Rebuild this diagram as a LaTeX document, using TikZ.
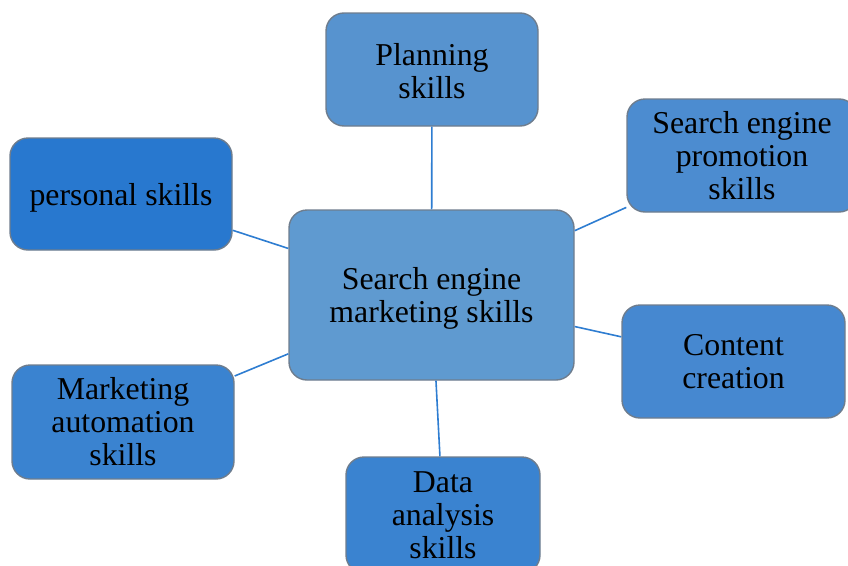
\documentclass[tikz,border=0pt]{standalone}
\usepackage{fontspec}
\setmainfont{Liberation Serif}
\definecolor{cbox}{HTML}{5F9AD0}
\definecolor{plbox}{HTML}{5793CF}
\definecolor{prbox}{HTML}{4C8CD0}
\definecolor{pebox}{HTML}{2878CF}
\definecolor{cobox}{HTML}{4688D0}
\definecolor{mabox}{HTML}{3A83D0}
\definecolor{dabox}{HTML}{3A83D0}
\definecolor{bord}{HTML}{6E7D8E}
\definecolor{link}{HTML}{2E7DD1}
\newcommand{\tstrut}[1]{\rule{0pt}{#1}}
\begin{document}
\begin{tikzpicture}[x=1pt,y=-1pt,
  box/.style={draw=bord, line width=1.4pt, rounded corners=18pt, align=center,
    font=\fontsize{31.8}{33}\selectfont, inner sep=0pt, text=black},
  link/.style={draw=link, line width=1.6pt}]
\useasboundingbox (0,0) rectangle (848,565);
\node[box, fill=cbox, minimum width=285pt, minimum height=170pt] (c) at (431.5,295) {\tstrut{29pt}Search engine\\marketing skills};
\node[box, fill=plbox, minimum width=212pt, minimum height=113pt] (pl) at (432,69.5) {\tstrut{26pt}Planning\\skills};
\node[box, fill=prbox, minimum width=230pt, minimum height=113pt] (pr) at (742,155.5) {Search engine\\promotion\\skills};
\node[box, fill=pebox, minimum width=222pt, minimum height=112pt] (pe) at (121,194) {\tstrut{29pt}personal skills};
\node[box, fill=cobox, minimum width=223pt, minimum height=113pt] (co) at (733.5,361.5) {Content\\creation};
\node[box, fill=mabox, minimum width=222pt, minimum height=114pt] (ma) at (123,422) {Marketing\\automation\\skills};
\node[box, fill=dabox, minimum width=194pt, minimum height=116pt] (da) at (443,515) {Data\\analysis\\skills};
\draw[link] (pl) -- (c);
\draw[link] (pr) -- (c);
\draw[link] (pe) -- (c);
\draw[link] (co) -- (c);
\draw[link] (ma) -- (c);
\draw[link] (da) -- (c);
\end{tikzpicture}
\end{document}
